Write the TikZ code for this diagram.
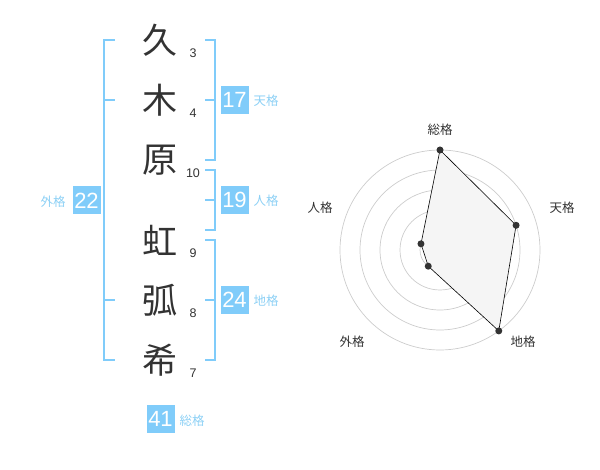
\documentclass[tikz,border=0pt]{standalone}
\usepackage{fontspec}
\setmainfont{Liberation Sans}
\newfontfamily\jpfont{Noto Sans CJK JP}
\definecolor{kakublue}{RGB}{128,204,250}
\definecolor{kakulabel}{RGB}{140,208,245}
\definecolor{inkgray}{RGB}{51,51,51}

\begin{document}
\begin{tikzpicture}[x=1pt,y=-1pt,
  kanji/.style={font=\jpfont\fontsize{35}{35}\selectfont, text=inkgray, inner sep=0pt},
  strokes/.style={font=\fontsize{12.5}{13}\selectfont, text=inkgray, inner sep=0pt},
  kakubox/.style={fill=kakublue, text=white, minimum size=28pt, inner sep=0pt, font=\fontsize{22}{22}\selectfont},
  kakuname/.style={font=\jpfont\fontsize{12.5}{12.5}\selectfont, text=kakulabel, inner sep=0pt},
  bracket/.style={draw=kakublue, line width=2pt},
  ring/.style={draw=gray!40, line width=0.7pt},
  dot/.style={circle, fill=inkgray, inner sep=0pt, minimum size=7pt},
  axislabel/.style={font=\jpfont\fontsize{12.5}{12.5}\selectfont, text=inkgray, inner sep=0pt}]
  \useasboundingbox (0,0) rectangle (600,470);
  % name and strokes
  \foreach \y/\c/\n [count=\i] in {40/久/3, 100/木/4, 160/原/10, 240/虹/9, 300/弧/8, 360/希/7} {
    \node[kanji] (k\i) at (160,\y) {\c};
    \node[strokes] (s\i) at (193,\y+13) {\n};
  }
  % brackets
  \draw[bracket] (115,40) -- (104,40) -- (104,360) -- (115,360);
  \draw[bracket] (104,100) -- (115,100);
  \draw[bracket] (104,300) -- (115,300);
  \draw[bracket] (205,40) -- (215,40) -- (215,160) -- (205,160);
  \draw[bracket] (205,100) -- (215,100);
  \draw[bracket] (205,170) -- (215,170) -- (215,230) -- (205,230);
  \draw[bracket] (205,200) -- (215,200);
  \draw[bracket] (205,240) -- (215,240) -- (215,360) -- (205,360);
  \draw[bracket] (205,300) -- (215,300);
  % scores
  \node[kakubox] (b1) at (234.5,100) {17};
  \node[kakuname] (l1) at (266,101) {天格};
  \node[kakubox] (b2) at (234.5,200) {19};
  \node[kakuname] (l2) at (266,201) {人格};
  \node[kakubox] (b3) at (234.5,300) {24};
  \node[kakuname] (l3) at (266,301) {地格};
  \node[kakubox] (b4) at (86.5,200.5) {22};
  \node[kakuname] (l4) at (53,202) {外格};
  \node[kakubox] (b5) at (160.5,419) {41};
  \node[kakuname] (l5) at (192,421) {総格};
  % radar chart
  \begin{scope}[shift={(440,250)}]
    \foreach \r in {20,40,...,100}
      \draw[ring] (0,0) circle[radius=\r pt];
    \fill[gray!35] (0,0) circle[radius=3.5pt];
    \coordinate (v1) at (90:100pt);
    \coordinate (v2) at (18:80pt);
    \coordinate (v3) at (-54:100pt);
    \coordinate (v4) at (-126:20pt);
    \coordinate (v5) at (162:20pt);
    \filldraw[fill=gray!8, draw=black, line width=0.6pt] (v1) -- (v2) -- (v3) -- (v4) -- (v5) -- cycle;
    \foreach \v in {v1,v2,v3,v4,v5}
      \node[dot] (d\v) at (\v) {};
  \end{scope}
  \node[axislabel] (a1) at (440,130) {総格};
  \node[axislabel] (a2) at (562,208) {天格};
  \node[axislabel] (a3) at (523,342) {地格};
  \node[axislabel] (a4) at (352,342) {外格};
  \node[axislabel] (a5) at (320,208) {人格};
\end{tikzpicture}
\end{document}
